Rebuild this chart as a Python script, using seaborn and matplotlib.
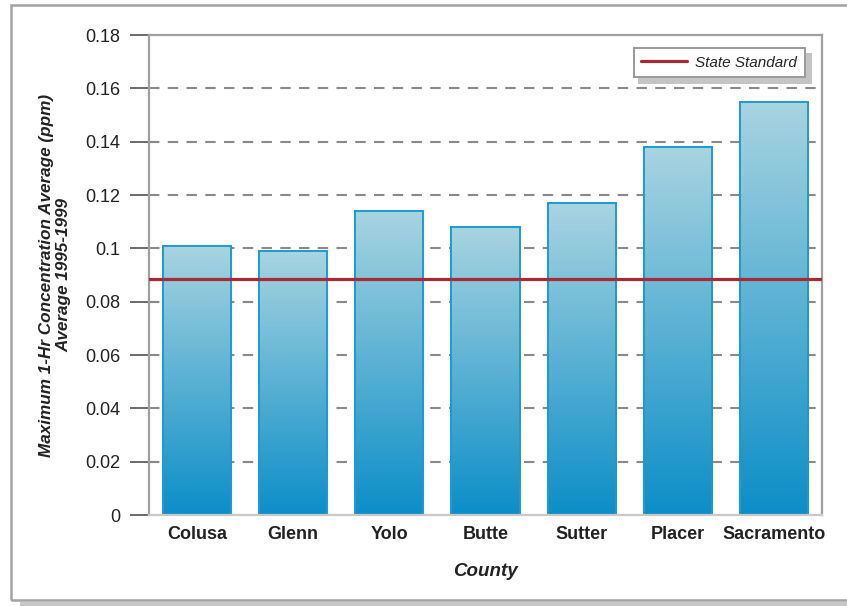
import numpy as np
import pandas as pd
import matplotlib
matplotlib.use("Agg")
import matplotlib.pyplot as plt
import seaborn as sns
from matplotlib.lines import Line2D
from matplotlib.patches import Rectangle

# Ozone, maximum 1-hour concentration, 1995-1999 average by county
counties = ["Colusa", "Glenn", "Yolo", "Butte", "Sutter", "Placer", "Sacramento"]
max_1hr_ppm = [0.101, 0.099, 0.114, 0.108, 0.117, 0.138, 0.155]
state_standard = 0.0885
y_ticks = [0, 0.02, 0.04, 0.06, 0.08, 0.1, 0.12, 0.14, 0.16, 0.18]
y_tick_labels = ["0", "0.02", "0.04", "0.06", "0.08", "0.1", "0.12", "0.14", "0.16", "0.18"]

df = pd.DataFrame({"County": counties, "ppm": max_1hr_ppm})

sns.set_theme(style="white")
plt.rcParams["font.family"] = ["Liberation Sans", "DejaVu Sans"]

fig = plt.figure(figsize=(8.47, 6.06), dpi=100)
ax = fig.add_axes([149 / 847, 1 - 515 / 606, 673 / 847, 480 / 606])

sns.barplot(data=df, x="County", y="ppm", ax=ax, color="#3aa6d2",
            width=0.71, edgecolor="#1b9bd3", linewidth=1.4, zorder=2)

# vertical gradient inside each bar: pale blue at top to deep blue at base
top_c = np.array(matplotlib.colors.to_rgb("#a8d4e0"))
bot_c = np.array(matplotlib.colors.to_rgb("#0c8ec8"))
t = np.linspace(0, 1, 256)[:, None, None]
grad = top_c * (1 - t) + bot_c * t
for patch in list(ax.patches):
    x0 = patch.get_x()
    w = patch.get_width()
    h = patch.get_height()
    patch.set_facecolor("none")
    im = ax.imshow(grad, extent=[x0, x0 + w, 0, h], origin="upper",
                   aspect="auto", zorder=1.9, interpolation="bilinear")
    im.set_clip_path(patch)

ax.set_xlim(-0.5, len(counties) - 0.5)
ax.set_ylim(0, 0.18)
ax.set_yticks(y_ticks)
ax.set_yticklabels(y_tick_labels)

# dashed horizontal gridlines
for v in y_ticks[1:-1]:
    ax.axhline(v, color="#8a8a8a", lw=1.5, ls=(0, (5, 4)), zorder=1)

# state standard line
ax.axhline(state_standard, color="#a52b37", lw=2.3, zorder=3)

for s in ax.spines.values():
    s.set_color("#a0a0a0")
    s.set_linewidth(1.6)
    s.set_visible(True)
ax.spines["bottom"].set_color("#c8c8c8")

ax.tick_params(axis="y", which="major", direction="out", length=13.5, width=1.1,
               color="#444444", labelsize=13, labelcolor="#222222", pad=7, left=True)
ax.tick_params(axis="x", length=0, pad=8)
for lbl in ax.get_xticklabels():
    lbl.set_fontsize(13)
    lbl.set_fontweight("bold")
    lbl.set_color("#222222")

ax.set_xlabel("County", fontsize=13.5, fontweight="bold", fontstyle="italic",
              color="#222222", labelpad=14)
ax.set_ylabel("Maximum 1-Hr Concentration Average (ppm)\nAverage 1995-1999",
              fontsize=12.3, fontweight="bold", fontstyle="italic",
              color="#222222", labelpad=10, linespacing=1.2)

handle = Line2D([], [], color="#a52b37", lw=2.3)
leg = ax.legend([handle], ["State Standard"], loc="upper right",
                bbox_to_anchor=((805 - 149) / 673, (515 - 48) / 480),
                borderaxespad=0, frameon=True, fancybox=False,
                shadow={"ox": 4, "oy": -4, "color": "#c4c4c4", "alpha": 1},
                handlelength=3.0, handletextpad=0.55, borderpad=0.5,
                prop={"size": 11, "style": "italic"})
leg.get_frame().set_edgecolor("#9a9a9a")
leg.get_frame().set_linewidth(1.4)
leg.set_zorder(5)

# outer frame with a soft drop shadow at the base
fig.patches.append(Rectangle((20 / 847, 0), 1, 4 / 606, transform=fig.transFigure,
                             facecolor="#c8c8c8", edgecolor="none", zorder=0))
fig.patches.append(Rectangle((11 / 847, 1 - 600 / 606), 1, 595 / 606,
                             transform=fig.transFigure, facecolor="none",
                             edgecolor="#a3a3a3", lw=1.8, zorder=0))

fig.savefig("out.png", dpi=100)
